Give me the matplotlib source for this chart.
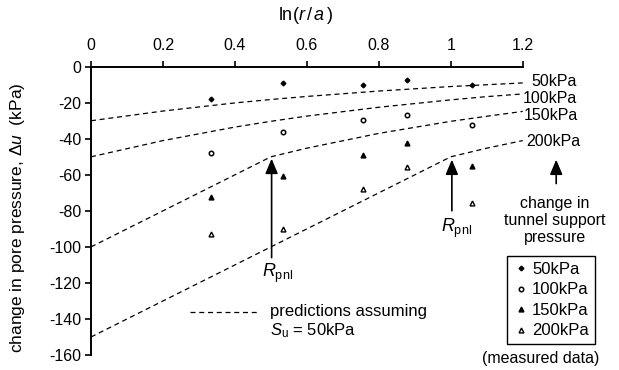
import matplotlib

matplotlib.use("Agg")
import matplotlib.pyplot as plt

plt.rcParams["font.family"] = ["Liberation Sans", "DejaVu Sans"]
plt.rcParams["mathtext.fontset"] = "custom"
plt.rcParams["mathtext.rm"] = "Liberation Sans"
plt.rcParams["mathtext.it"] = "Liberation Sans:italic"

# predictions assuming Su = 50kPa
pred_x = [0.0, 0.2, 0.4, 0.5, 0.6, 0.8, 1.0, 1.1, 1.2]
pred_50 = [-30.0, -24.6, -20.1, -18.2, -16.5, -13.5, -11.0, -10.0, -9.0]
pred_100 = [-50.0, -41.0, -33.5, -30.3, -27.4, -22.5, -18.4, -16.6, -15.1]
pred_150 = [-100.0, -80.0, -60.0, -50.0, -45.2, -37.0, -30.3, -27.5, -24.8]
pred_200 = [-150.0, -130.0, -110.0, -100.0, -90.0, -70.0, -50.0, -45.2, -41.0]
pred_labels = ["50kPa", "100kPa", "150kPa", "200kPa"]

# measured data
meas_x = [0.334, 0.535, 0.757, 0.877, 1.06]
meas_50 = [-18.1, -8.9, -10.2, -7.4, -10.2]
meas_100 = [-47.8, -36.1, -29.6, -26.8, -32.4]
meas_150 = [-72.2, -60.7, -49.0, -42.6, -55.3]
meas_200 = [-92.6, -89.8, -67.6, -55.5, -75.9]

xticks = [0, 0.2, 0.4, 0.6, 0.8, 1.0, 1.2]
xtick_labels = ["0", "0.2", "0.4", "0.6", "0.8", "1", "1.2"]
yticks = list(range(0, -161, -20))

fig = plt.figure(figsize=(6.19, 3.70), dpi=100)
ax = fig.add_axes([0.147, 0.0405, 0.6975, 0.7792])
ax.set_xlim(0, 1.2)
ax.set_ylim(-160, 0)

for sp in ["bottom", "right"]:
    ax.spines[sp].set_visible(False)
for sp in ["top", "left"]:
    ax.spines[sp].set_linewidth(1.4)
ax.xaxis.tick_top()
ax.set_xticks(xticks, labels=xtick_labels)
ax.set_yticks(yticks, labels=[str(v) for v in yticks])
ax.tick_params(axis="x", direction="out", length=4, width=1.2, pad=6, labelsize=11.5)
ax.tick_params(axis="y", direction="out", length=4, width=1.2, pad=3, labelsize=11.5)

dash = dict(color="black", lw=0.9, ls=(0, (4, 3)), clip_on=False)
for ys in [pred_50, pred_100, pred_150, pred_200]:
    ax.plot(pred_x, ys, **dash)

# curve labels at right
for lab, (lx, ly) in zip(pred_labels, [(1.225, -8.3), (1.2, -17.6), (1.204, -26.8), (1.211, -41.7)]):
    ax.text(lx, ly, lab, ha="left", va="center", fontsize=11.5)

ms = dict(ls="none", color="black", clip_on=False)
h50, = ax.plot(meas_x, meas_50, marker="D", ms=2.4, **ms)
h100, = ax.plot(meas_x, meas_100, marker="o", ms=3.2, mfc="white", mew=1.1, **ms)
h150, = ax.plot(meas_x, meas_150, marker="^", ms=3.5, **ms)
h200, = ax.plot(meas_x, meas_200, marker="^", ms=3.5, mfc="white", mew=1.0, **ms)

arrow = dict(arrowstyle="-|>,head_length=0.9,head_width=0.38", color="black", lw=1.2)
ax.annotate("", xy=(0.502, -49.5), xytext=(0.502, -107.5), arrowprops=arrow,
            annotation_clip=False)
ax.annotate("", xy=(1.003, -50), xytext=(1.003, -81.5), arrowprops=arrow,
            annotation_clip=False)
ax.annotate("", xy=(1.293, -50), xytext=(1.293, -66.4), arrowprops=arrow,
            annotation_clip=False)
ax.text(0.518, -114.7, r"$R_{\mathrm{pnl}}$", ha="center", va="center", fontsize=13)
ax.text(1.015, -89.6, r"$R_{\mathrm{pnl}}$", ha="center", va="center", fontsize=13)

ax.text(1.29, -72.0, "change in\ntunnel support\npressure", ha="center", va="top",
        fontsize=11.5, linespacing=1.15, clip_on=False)

# predictions key
ax.plot([0.275, 0.47], [-136.1, -136.1], **dash)
ax.text(0.498, -136.1, "predictions assuming", ha="left", va="center", fontsize=12)
ax.text(0.498, -146.5, r"$S_{\mathrm{u}}$ = 50kPa", ha="left", va="center", fontsize=12)

leg = ax.legend([h50, h100, h150, h200], pred_labels, loc="upper left",
                bbox_to_anchor=(0.819, 0.308), bbox_transform=fig.transFigure,
                fontsize=12, handlelength=1.0, handletextpad=0.15, labelspacing=0.33,
                borderpad=0.35, borderaxespad=0, fancybox=False, framealpha=1)
leg.get_frame().set_edgecolor("black")
leg.get_frame().set_linewidth(1.0)
fig.text(541 / 619, 1 - 358 / 370, "(measured data)", ha="center", va="center", fontsize=11.5)

fig.text(306 / 619, 1 - 16 / 370, r"ln($r\,/\,a\,$)", ha="center", va="center", fontsize=13)
fig.text(18 / 619, 1 - 218 / 370, r"change in pore pressure, $\Delta u$  (kPa)",
         rotation=90, ha="center", va="center", fontsize=12.5)

fig.savefig("out.png", dpi=100)
plt.close(fig)
